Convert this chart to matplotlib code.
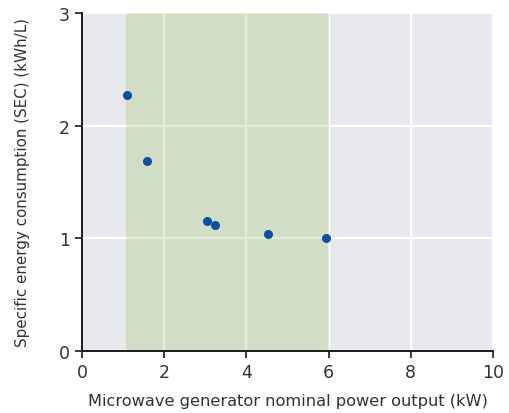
import matplotlib
matplotlib.use("Agg")
from matplotlib import pyplot as plt

power_kw = [1.09, 1.58, 3.03, 3.24, 4.53, 5.94]
sec_kwh_per_l = [2.27, 1.69, 1.15, 1.12, 1.04, 1.00]
span_start, span_end = 1.07, 6.0

x_ticks = [0, 2, 4, 6, 8, 10]
y_ticks = [0, 1, 2, 3]

fig = plt.figure(figsize=(5.09, 4.14), dpi=100)
ax = fig.add_axes([0.161, 0.1498, 0.8076, 0.8165])

ax.set_facecolor("#e8e9ec")
ax.grid(True, color="white", linewidth=1.6, zorder=1)
ax.set_axisbelow(True)
# translucent green band, gridlines show through faintly
ax.axvspan(span_start, span_end, color="#97c462", alpha=0.28, linewidth=0, zorder=2)

ax.plot(power_kw, sec_kwh_per_l, "o", color="#0d4fa3", markersize=6.5,
        markeredgewidth=0, zorder=3)

ax.set_xlim(0, 10)
ax.set_ylim(0, 3)
ax.set_xticks(x_ticks)
ax.set_yticks(y_ticks)

for side in ["top", "right"]:
    ax.spines[side].set_visible(False)
for side in ["left", "bottom"]:
    ax.spines[side].set_color("#1a1a1a")
    ax.spines[side].set_linewidth(1.4)
ax.tick_params(direction="out", length=5, width=1.2, color="#1a1a1a",
               labelsize=12.5, labelcolor="#333333")

ax.set_xlabel("Microwave generator nominal power output (kW)", fontsize=11.7,
              color="#333333", labelpad=9)
ax.set_ylabel("Specific energy consumption (SEC) (kWh/L)", fontsize=10.9,
              color="#333333", labelpad=21)

fig.savefig("out.png", dpi=100)
